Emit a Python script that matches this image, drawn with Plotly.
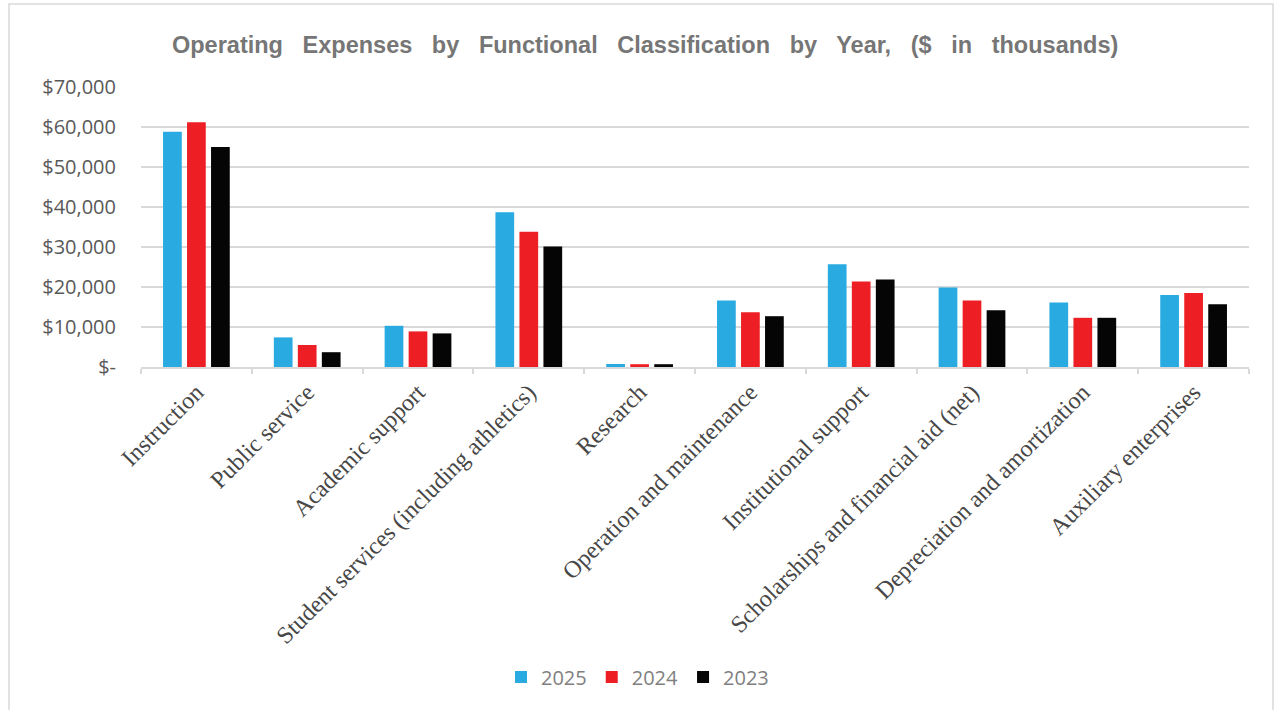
import plotly.graph_objects as go

categories = ["Instruction", "Public service", "Academic support",
              "Student services (including athletics)", "Research",
              "Operation and maintenance", "Institutional support",
              "Scholarships and financial aid (net)",
              "Depreciation and amortization", "Auxiliary enterprises"]
v2025 = [58800, 7400, 10300, 38700, 750, 16600, 25700, 19900, 16100, 18000]
v2024 = [61200, 5500, 8900, 33800, 700, 13700, 21400, 16600, 12300, 18500]
v2023 = [55000, 3700, 8400, 30100, 700, 12700, 21900, 14200, 12300, 15700]
series = [("2025", v2025, "#29ABE2"), ("2024", v2024, "#EE1F24"), ("2023", v2023, "#050505")]
yticks = [0, 10000, 20000, 30000, 40000, 50000, 60000, 70000]
yticklabels = ["$-", "$10,000", "$20,000", "$30,000", "$40,000", "$50,000", "$60,000", "$70,000"]

fig = go.Figure()
for name, vals, col in series:
    fig.add_trace(go.Bar(x=categories, y=vals, name=name, marker_color=col,
                         marker_line_width=0))

W, H = 1275, 710
L, R, T, B = 141, 26, 87, 343
pw, ph = W - L - R, H - T - B

def px(x):
    return (x - L) / pw

def py(y):
    return (H - B - y) / ph

fig.update_layout(
    width=W, height=H,
    margin=dict(l=L, r=R, t=T, b=B, autoexpand=False),
    paper_bgcolor="white", plot_bgcolor="white",
    barmode="group", bargap=0.35, bargroupgap=0.22,
    title=dict(text="<b>Operating   Expenses   by   Functional   Classification   by   Year,   ($   in   thousands)</b>",
               x=0.506, xref="container", y=1 - 45 / H, yref="container",
               xanchor="center", yanchor="middle",
               font=dict(family="Liberation Sans, Arial", size=23.5, color="#767676")),
    showlegend=True,
    legend=dict(orientation="h", x=0.5, xanchor="center", xref="container",
                y=1 - 677 / H, yref="container", yanchor="middle",
                font=dict(family="Open Sans, Noto Sans", size=20, color="#7F7F7F"),
                itemwidth=30, traceorder="normal"),
    xaxis=dict(tickangle=-45, tickfont=dict(family="Liberation Serif, Times New Roman", size=24, color="#474747"),
               showline=True, linecolor="#D9D9D9", linewidth=1.5, automargin=False,
               ticks="outside", tickson="boundaries", ticklen=5, tickcolor="#D9D9D9", tickwidth=1.5,
               showgrid=False),
    yaxis=dict(range=[0, 70000], tickvals=yticks, ticktext=yticklabels, automargin=False,
               tickfont=dict(family="Open Sans, Noto Sans", size=20, color="#595959"),
               showgrid=True, gridcolor="#D9D9D9", gridwidth=1.5,
               zeroline=False, showline=False, ticks="", ticklabelstandoff=24),
    shapes=[dict(type="rect", xref="paper", yref="paper",
                 x0=px(9), x1=px(1273), y0=py(720), y1=py(4),
                 line=dict(color="#D9D9D9", width=1.5), layer="below")],
)

fig.write_html("out.html")
